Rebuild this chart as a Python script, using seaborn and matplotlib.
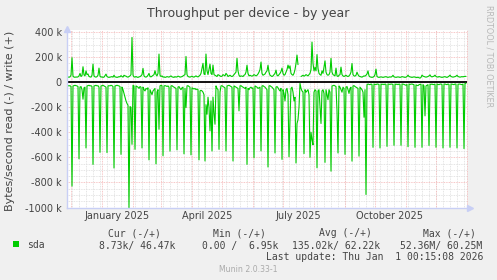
import numpy as np
import pandas as pd
import matplotlib
matplotlib.use("Agg")
import matplotlib.pyplot as plt
import matplotlib.patches as mpatches
from matplotlib.ticker import MultipleLocator
import seaborn as sns

# ---------------- data (k bytes/second, one value per day) ----------------
start_date = "2024-11-27"
end_date = "2026-01-01"

write_k = [
    40, 41, 39, 42, 55, 195, 48, 40, 39, 41, 40, 42, 50,
    70, 45, 52, 123, 58, 50, 90, 60, 65, 45, 42, 40, 55,
    144, 50, 42, 40, 44, 55, 112, 48,
    40, 42, 38, 40, 52, 64, 45, 40, 38, 40, 42, 44, 40, 55, 42, 40,
    38, 40, 44, 42, 52, 45, 40, 55, 50, 48, 42, 40, 45, 50, 60,
    357, 55, 42, 40, 45, 40, 38, 42, 44, 50, 60,
    110, 50, 42, 40, 45, 55, 70, 45, 42, 48, 55, 60, 91, 60, 50, 70, 224,
    55, 45, 50, 40, 42, 38, 40, 44, 42, 40, 45, 50, 42, 40, 38, 44,
    40, 42, 48, 45, 40, 42, 44, 50, 55, 60, 205,
    60, 45, 42, 40, 44, 48, 42, 40, 45, 50, 44, 42, 48, 55, 70,
    110, 150, 65, 60, 224, 90, 60, 100, 144, 70, 60, 136,
    60, 55, 50, 45, 60, 55, 50, 45, 48, 60, 55, 50, 70, 60, 45, 50,
    55, 48, 45, 50, 60, 70, 80,
    190, 90, 55, 45, 50, 48, 45, 55, 60, 80, 135,
    70, 50, 55, 50, 48, 52, 60, 55, 50, 55, 65, 80, 100, 160,
    70, 55, 60, 65, 80, 90, 135,
    80, 55, 50, 45, 50, 60, 70, 96,
    55, 50, 60, 70, 85, 112,
    70, 55, 60, 80, 100, 136, 110, 130,
    70, 60, 55, 70, 100, 150, 216, 140,
    None, None,
    45, 50, 55, 48, 52, 60, 55, 50, 60, 70, 100, 320, 150,
    90, 117, 90, 220, 110, 70, 60, 55, 90, 70, 120, 170,
    80, 60, 55, 60, 80, 190, 80, 60, 55, 50, 112,
    50, 45, 55, 60, 120, 60, 50, 45, 50, 55, 48, 45, 50, 60, 80, 149,
    60, 50, 48, 55, 80, 60, 48, 45, 42, 40, 45, 50, 48, 55, 65, 90,
    50, 42, 40, 38, 40, 45, 60, 104,
    45, 40, 38, 40, 42, 40, 38, 40, 42, 44, 40, 38, 40, 42, 40, 45, 55,
    42, 40, 38, 40, 42, 40, 38, 40, 44, 42, 40, 38, 40, 45, 56,
    45, 42, 40, 38, 40, 42, 40, 38, 36, 40, 35, 32, 38, 56,
    48, 45, 42, 40, 42, 45, 50, 58,
    45, 42, 45, 48, 56,
    45, 42, 40, 45, 42, 40, 38, 40, 42, 44, 40, 38, 42, 48, 56,
    45, 42, 40, 42, 44, 48, 55,
    45, 42, 40, 42, 44, 42, 45, 46, 46,
]

read_k = [
    25, 28, 30, 28, 35, 829, 30, 28, 25, 28, 30, 35, 612,
    40, 35, 60, 136, 45, 40, 525, 30, 28, 25, 30, 28, 35, 656,
    30, 28, 25, 30, 28, 40, 560,
    30, 28, 25, 30, 35, 40, 562,
    30, 28, 30, 25, 28, 35, 685,
    30, 28, 25, 28, 30, 35, 576,
    40, 60, 90, 120, 150, 170, 185, 1003, 195, 200, 496, 25, 30, 536,
    30, 35, 40, 50, 35, 40, 525,
    40, 60, 70, 50, 55, 45, 620,
    60, 80, 100, 70, 60, 50, 652,
    80, 60, 376, 30, 25, 28, 587,
    30, 28, 30, 35, 30, 40, 550,
    30, 28, 35, 40, 45, 50, 540,
    40, 35, 50, 60, 45, 40, 572,
    50, 203, 30, 28, 35, 40, 580,
    45, 50, 55, 50, 60, 55, 60, 620,
    70, 65, 70, 80, 100, 629,
    180, 256, 120, 200, 389, 150, 549,
    120, 250, 336, 30, 50, 60, 536,
    80, 30, 28, 35, 40, 45, 549,
    30, 28, 25, 30, 35, 40, 629,
    30, 35, 40, 45, 50, 229, 30,
    28, 35, 40, 45, 50, 40, 656,
    50, 60, 45, 40, 50, 45, 603,
    30, 35, 40, 50, 45, 40, 549,
    30, 28, 35, 40, 50, 60, 677,
    30, 28, 35, 40, 50, 60, 565,
    40, 35, 45, 60, 70, 50, 616,
    60, 90, 150, 60, 50, 100, 595,
    300, 50, 40, 80, 150, 120, 645,
    330, 300, 200, 10, 50, 70, 80, 570,
    60, 80, 70, 60, 100, 600,
    400, 460, 500, 80, 60, 70, 683,
    70, 60, 200, 330, 70, 60, 90, 640,
    60, 100, 140, 60, 80, 710,
    30, 28, 25, 30, 35, 229, 565,
    30, 40, 60, 80, 40, 50, 576,
    40, 35, 60, 90, 50, 40, 630,
    30, 28, 35, 40, 45, 50, 590,
    40, 50, 60, 80, 280, 60, 896,
    20, 15, 18, 20, 15, 18, 520,
    15, 18, 20, 15, 16, 18, 525,
    15, 18, 16, 20, 15, 18, 512,
    15, 16, 18, 15, 16, 18, 504,
    15, 18, 16, 20, 15, 18, 504,
    15, 16, 18, 22, 25, 18, 515,
    15, 18, 16, 15, 18, 20, 520,
    22, 25, 28, 20, 18, 16, 520,
    20, 30, 269, 30, 25, 20, 505,
    16, 18, 15, 20, 18, 16, 520,
    15, 18, 20, 16, 15, 18, 525,
    16, 15, 18, 20, 15, 18, 520,
    15, 16, 18, 20, 15, 16, 525,
    18, 15, 16, 18, 20, 15, 530,
    9, 9,
]

title = "Throughput per device - by year"
ylabel = "Bytes/second read (-) / write (+)"
y_ticks = [400, 200, 0, -200, -400, -600, -800, -1000]
y_tick_labels = ["400 k", "200 k", "0", "-200 k", "-400 k", "-600 k", "-800 k", "-1000 k"]
x_label_dates = ["2025-01-16", "2025-04-16", "2025-07-16", "2025-10-16"]
x_labels = ["January 2025", "April 2025", "July 2025", "October 2025"]

legend_name = "sda"
legend_headers = ["Cur (-/+)", "Min (-/+)", "Avg (-/+)", "Max (-/+)"]
legend_values = ["8.73k/ 46.47k", "0.00 /  6.95k", "135.02k/ 62.22k", "52.36M/ 60.25M"]
last_update = "Last update: Thu Jan  1 00:15:08 2026"
footer = "Munin 2.0.33-1"
watermark = "RRDTOOL / TOBI OETIKER"

# ---------------- style ----------------
W, H = 497, 280
GREEN = "#00CC00"
BG = "#F0F0F0"
AXIS_COL = "#c8cff5"
MAJOR_GRID = "#f5b4b4"
MINOR_GRID = "#dcdcdc"
TXT = "#444444"

sns.set_theme(style="white")
plt.rcParams["font.family"] = ["DejaVu Sans"]

def fx(px):
    return px / W

def fy(py):
    return 1 - py / H

fig = plt.figure(figsize=(W / 100, H / 100), dpi=100, facecolor=BG)
ax_left, ax_right, ax_top, ax_bot = 67, 467, 29.5, 207.5
ax = fig.add_axes([fx(ax_left), fy(ax_bot), (ax_right - ax_left) / W, (ax_bot - ax_top) / H])
ax.set_facecolor("white")

start = pd.Timestamp(start_date)

def frame(values, sign):
    v = pd.Series(values, dtype="float")
    df = pd.DataFrame({
        "date": start + pd.to_timedelta(np.arange(len(v)), unit="D"),
        "val": sign * v,
    })
    df["seg"] = df["val"].isna().cumsum()
    return df.dropna()

df_w = frame(write_k, 1)
df_r = frame(read_k, -1)

# grid
month_starts = pd.date_range("2024-12-01", end_date, freq="MS")
weeks = pd.date_range(start_date, end_date, freq="W-MON")
ax.vlines(weeks, 0, 1, transform=ax.get_xaxis_transform(), colors=MINOR_GRID,
          linestyles=(0, (1, 1)), lw=0.6, zorder=0.4)
ax.vlines(month_starts, 0, 1, transform=ax.get_xaxis_transform(), colors=MAJOR_GRID,
          linestyles=(0, (1, 1)), lw=0.6, zorder=0.5, clip_on=False)

ax.set_ylim(-1000, 420)
ax.set_yticks(y_ticks)
ax.set_yticklabels(y_tick_labels)
ax.yaxis.set_minor_locator(MultipleLocator(50))
ax.yaxis.grid(True, which="minor", color=MINOR_GRID, ls=(0, (1, 1)), lw=0.6, zorder=0.4)
ax.yaxis.grid(True, which="major", color=MAJOR_GRID, ls=(0, (1, 1)), lw=0.6, zorder=0.5)
ax.set_axisbelow(True)

ax.axhline(0, color="black", lw=1.3, zorder=1.5)

sns.lineplot(data=df_w, x="date", y="val", units="seg", estimator=None,
             color=GREEN, lw=0.8, ax=ax, legend=False, zorder=3)
sns.lineplot(data=df_r, x="date", y="val", units="seg", estimator=None,
             color=GREEN, lw=0.8, ax=ax, legend=False, zorder=3)

ax.set_xlim(pd.Timestamp(start_date), pd.Timestamp(end_date))
ax.set_xticks(pd.to_datetime(x_label_dates))
ax.set_xticklabels(x_labels)
ax.set_xticks(month_starts, minor=True)
ax.set_xlabel("")
ax.set_ylabel("")

ax.tick_params(axis="x", which="major", length=0, pad=2.8, labelsize=7, labelcolor=TXT)
ax.tick_params(axis="x", which="minor", length=2, width=0.7, color=MAJOR_GRID, direction="out")
ax.tick_params(axis="y", which="major", length=2, width=0.7, color=MAJOR_GRID, pad=1.6,
               labelsize=7, labelcolor=TXT, direction="out")
ax.tick_params(axis="y", which="minor", length=1.5, width=0.6, color=MINOR_GRID, direction="out")

for s in ["top", "right"]:
    ax.spines[s].set_visible(False)
for s in ["left", "bottom"]:
    ax.spines[s].set_color(AXIS_COL)
    ax.spines[s].set_linewidth(1.0)
    ax.spines[s].set_zorder(4)

# axis arrows
ax.plot([0], [1.0 + 1.0 / (ax_bot - ax_top)], marker="^", ms=4, color=AXIS_COL,
        transform=ax.transAxes, clip_on=False, zorder=5)
ax.plot([1.0 + 3.0 / (ax_right - ax_left)], [0], marker=">", ms=4, color=AXIS_COL,
        transform=ax.transAxes, clip_on=False, zorder=5)

# texts
fig.text(fx(248), fy(17.5), title, fontsize=9, ha="center", va="baseline", color=TXT)
fig.text(fx(10), fy(121), ylabel, fontsize=8, rotation=90, ha="center", va="center", color=TXT)
fig.text(fx(488.5), fy(56), watermark, fontsize=5.8, rotation=270, ha="center", va="center",
         color="#b8b8b8")

mono = "DejaVu Sans Mono"
hdr_x = [108, 213, 319, 423]
for x, t in zip(hdr_x, legend_headers):
    fig.text(fx(x), fy(236), t, fontsize=7, family=mono, ha="left", va="baseline", color=TXT)

fig.patches.append(mpatches.Rectangle((fx(13), fy(247)), 6 / W, 6 / H, transform=fig.transFigure,
                                      facecolor=GREEN, edgecolor="none", figure=fig))
fig.text(fx(27), fy(248.5), legend_name, fontsize=7, family=mono, ha="left", va="baseline", color=TXT)
val_x = [99, 202, 292, 400]
for x, t in zip(val_x, legend_values):
    fig.text(fx(x), fy(248.5), t, fontsize=7, family=mono, ha="left", va="baseline", color=TXT)
fig.text(fx(483), fy(260.5), last_update, fontsize=7, family=mono, ha="right", va="baseline", color=TXT)
fig.text(fx(248.5), fy(272), footer, fontsize=5.6, ha="center", va="baseline", color="#aaaaaa")

fig.savefig("out.png", dpi=100, facecolor=BG)
